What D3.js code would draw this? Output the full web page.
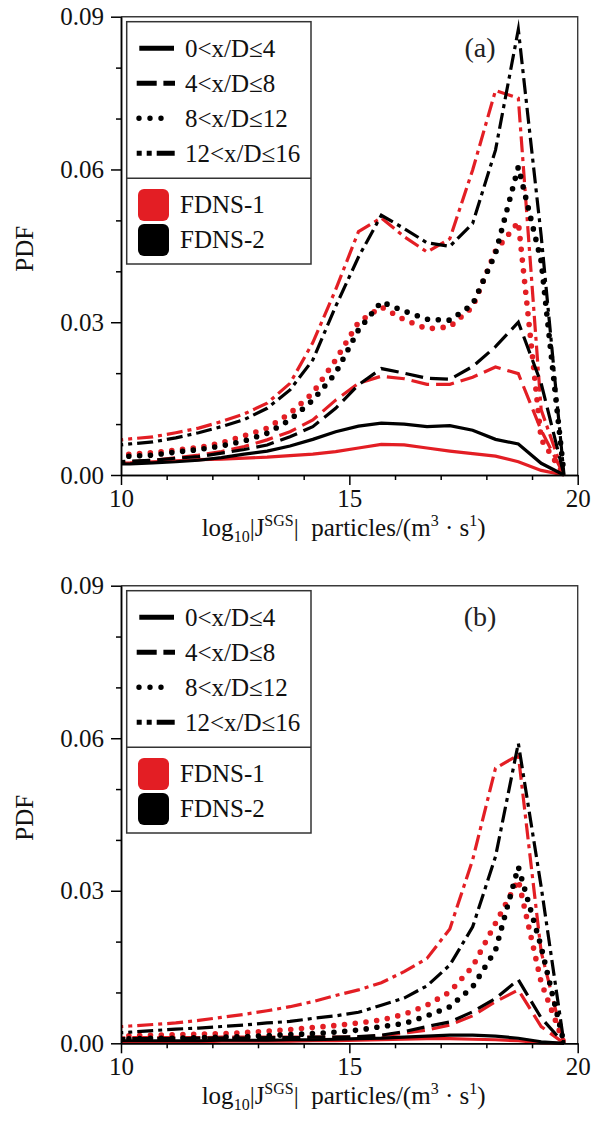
<!DOCTYPE html>
<html>
<head>
<meta charset="utf-8">
<script src="https://cdn.jsdelivr.net/npm/d3@7"></script>
<style>
  html, body { margin: 0; padding: 0; background: #fff; }
  svg { display: block; font-family: "Liberation Serif", "Times New Roman", Times, serif; }
</style>
</head>
<body>
<svg id="chart" width="592" height="1127"></svg>
<script>
// Bin centres of log10|J_SGS| (the first bin lies just left of the axis and is clipped)
const binCenters = [9.7, 10.2, 10.7, 11.2, 11.7, 12.2, 12.7, 13.2, 13.7, 14.2, 14.7,
                    15.2, 15.7, 16.2, 16.7, 17.2, 17.7, 18.2, 18.7, 19.2, 19.7];

const regionLabels = ["0<x/D≤4", "4<x/D≤8", "8<x/D≤12", "12<x/D≤16"];
const caseLabels = ["FDNS-1", "FDNS-2"];
const panelLabels = ["(a)", "(b)"];
const xTickValues = [10, 15, 20];
const yTickValues = [0, 0.03, 0.06, 0.09];

// Panel (a) PDFs
const aRedSolid     = [0.0023, 0.0024, 0.0026, 0.0028, 0.0030, 0.0031, 0.0033, 0.0035, 0.0038, 0.0041, 0.0046, 0.0053, 0.0060, 0.0059, 0.0053, 0.0047, 0.0042, 0.0037, 0.0026, 0.0009, 0];
const aBlackSolid   = [0.0021, 0.0022, 0.0024, 0.0026, 0.0029, 0.0034, 0.0041, 0.0047, 0.0057, 0.0070, 0.0085, 0.0096, 0.0102, 0.0100, 0.0095, 0.0097, 0.0088, 0.0070, 0.0061, 0.0023, 0];
const aRedDashed    = [0.0024, 0.0026, 0.0029, 0.0034, 0.0039, 0.0046, 0.0056, 0.0069, 0.0085, 0.0108, 0.0147, 0.0180, 0.0194, 0.0189, 0.0178, 0.0178, 0.0192, 0.0212, 0.0199, 0.0088, 0];
const aBlackDashed  = [0.0025, 0.0027, 0.0029, 0.0033, 0.0036, 0.0043, 0.0050, 0.0059, 0.0075, 0.0095, 0.0131, 0.0177, 0.0209, 0.0200, 0.0190, 0.0188, 0.0213, 0.0252, 0.0300, 0.0180, 0];
const aRedDotted    = [0.0036, 0.0041, 0.0044, 0.0049, 0.0054, 0.0063, 0.0077, 0.0092, 0.0121, 0.0161, 0.0226, 0.0300, 0.0330, 0.0305, 0.0287, 0.0291, 0.0330, 0.0440, 0.0497, 0.0070, 0];
const aBlackDotted  = [0.0034, 0.0037, 0.0039, 0.0045, 0.0050, 0.0057, 0.0067, 0.0082, 0.0108, 0.0147, 0.0200, 0.0285, 0.0340, 0.0322, 0.0306, 0.0304, 0.0335, 0.0435, 0.0605, 0.0420, 0];
const aRedDashDot   = [0.0066, 0.0071, 0.0075, 0.0083, 0.0092, 0.0105, 0.0120, 0.0141, 0.0180, 0.0260, 0.0364, 0.0478, 0.0505, 0.0468, 0.0438, 0.0464, 0.0599, 0.0755, 0.0740, 0.0128, 0];
const aBlackDashDot = [0.0056, 0.0061, 0.0065, 0.0073, 0.0083, 0.0095, 0.0109, 0.0131, 0.0167, 0.0226, 0.0331, 0.0428, 0.0510, 0.0484, 0.0456, 0.0449, 0.0494, 0.0638, 0.0875, 0.0470, 0];

// Panel (b) PDFs
const bRedSolid     = [0.0003, 0.0003, 0.0003, 0.0003, 0.0003, 0.0004, 0.0004, 0.0004, 0.0004, 0.0005, 0.0005, 0.0006, 0.0007, 0.0008, 0.0009, 0.0009, 0.0008, 0.0007, 0.0005, 0.0001, 0];
const bBlackSolid   = [0.0005, 0.0005, 0.0005, 0.0005, 0.0005, 0.0006, 0.0006, 0.0006, 0.0007, 0.0007, 0.0008, 0.0009, 0.0010, 0.0012, 0.0014, 0.0016, 0.0016, 0.0014, 0.0010, 0.0003, 0];
const bRedDashed    = [0.0010, 0.0011, 0.0011, 0.0011, 0.0011, 0.0012, 0.0012, 0.0012, 0.0012, 0.0012, 0.0012, 0.0012, 0.0015, 0.0020, 0.0026, 0.0036, 0.0054, 0.0082, 0.0105, 0.0033, 0];
const bBlackDashed  = [0.0009, 0.0009, 0.0009, 0.0009, 0.0010, 0.0010, 0.0010, 0.0011, 0.0011, 0.0012, 0.0012, 0.0013, 0.0016, 0.0023, 0.0033, 0.0042, 0.0062, 0.0088, 0.0125, 0.0050, 0];
const bRedDotted    = [0.0014, 0.0015, 0.0016, 0.0017, 0.0018, 0.0019, 0.0021, 0.0024, 0.0027, 0.0031, 0.0035, 0.0040, 0.0046, 0.0057, 0.0075, 0.0101, 0.0151, 0.0236, 0.0321, 0.0120, 0];
const bBlackDotted  = [0.0009, 0.0009, 0.0010, 0.0010, 0.0011, 0.0012, 0.0013, 0.0015, 0.0017, 0.0019, 0.0022, 0.0026, 0.0033, 0.0039, 0.0054, 0.0072, 0.0111, 0.0183, 0.0347, 0.0190, 0];
const bRedDashDot   = [0.0031, 0.0034, 0.0037, 0.0040, 0.0045, 0.0051, 0.0057, 0.0064, 0.0072, 0.0082, 0.0094, 0.0105, 0.0119, 0.0141, 0.0167, 0.0225, 0.0361, 0.0541, 0.0567, 0.0180, 0];
const bBlackDashDot = [0.0019, 0.0022, 0.0025, 0.0028, 0.0030, 0.0033, 0.0036, 0.0040, 0.0043, 0.0049, 0.0054, 0.0061, 0.0075, 0.0089, 0.0113, 0.0154, 0.0229, 0.0367, 0.0590, 0.0308, 0];

// ---------------------------------------------------------------------------
const caseColors = ["#e31e24", "#000000"];
const lineStyles = [
  { dash: null,          width: 3.2, cap: "butt"  },   // solid
  { dash: "18,7",        width: 3.2, cap: "butt"  },   // dashed
  { dash: "0,10.8",      width: 5.6, cap: "round" },   // dotted
  { dash: "16,5,4,5",    width: 3.2, cap: "butt"  }    // dash-dot
];
const legendStyles = [
  { dash: null,        width: 5,   cap: "butt",  x0: 139.3, x1: 174,   offset: 0  },
  { dash: "20,6.7",    width: 5,   cap: "butt",  x0: 136.7, x1: 175,   offset: 0  },
  { dash: "0,11",      width: 5.4, cap: "round", x0: 139,   x1: 172,   offset: 0  },
  { dash: "18,5,5,5",  width: 5,   cap: "butt",  x0: 136.7, x1: 175,   offset: 13 }
];

const panels = [
  { top: 16.7,  bottom: 475,    label: panelLabels[0],
    series: [[aRedSolid, aBlackSolid], [aRedDashed, aBlackDashed], [aRedDotted, aBlackDotted], [aRedDashDot, aBlackDashDot]] },
  { top: 585.7, bottom: 1043.3, label: panelLabels[1],
    series: [[bRedSolid, bBlackSolid], [bRedDashed, bBlackDashed], [bRedDotted, bBlackDotted], [bRedDashDot, bBlackDashDot]] }
];

const plotLeft = 121, plotRight = 577.7;
const svg = d3.select("#chart");

const x = d3.scaleLinear().domain([10, 20]).range([plotLeft, plotRight]);

panels.forEach((p, pi) => {
  const T = p.top;
  const y = d3.scaleLinear().domain([0, 0.09]).range([p.bottom, p.top]);
  const g = svg.append("g");

  // frame (top and right)
  g.append("path")
    .attr("d", `M${plotLeft},${T}H${plotRight}V${p.bottom}`)
    .attr("fill", "none").attr("stroke", "#3a3a3a").attr("stroke-width", 1.4);

  // clip region for curves
  const clipId = "clip" + pi;
  svg.append("clipPath").attr("id", clipId)
    .append("rect").attr("x", plotLeft).attr("y", T - 2)
    .attr("width", plotRight - plotLeft).attr("height", p.bottom - T + 4);

  const curves = g.append("g").attr("clip-path", `url(#${clipId})`);
  const line = d3.line()
    .x((d, i) => x(binCenters[i]))
    .y(d => y(d));

  // red (FDNS-1) first, black (FDNS-2) drawn over it
  [0, 1].forEach(ci => {
    p.series.forEach((pair, si) => {
      const st = lineStyles[si];
      curves.append("path")
        .datum(pair[ci])
        .attr("d", line)
        .attr("fill", "none")
        .attr("stroke", caseColors[ci])
        .attr("stroke-width", st.width)
        .attr("stroke-linecap", st.cap)
        .attr("stroke-linejoin", "miter")
        .attr("stroke-miterlimit", 10)
        .attr("stroke-dasharray", st.dash);
    });
  });

  // axes
  const yAxis = d3.axisLeft(y).tickValues(yTickValues).tickFormat(d3.format(".2f"))
    .tickSize(10).tickSizeOuter(0).tickPadding(7);
  const yMinor = d3.axisLeft(y).tickValues([0.01, 0.02, 0.04, 0.05, 0.07, 0.08])
    .tickFormat("").tickSize(5).tickSizeOuter(0);
  const xAxis = d3.axisBottom(x).tickValues(xTickValues).tickFormat(d3.format("d"))
    .tickSize(10).tickSizeOuter(0).tickPadding(4);
  const xMinor = d3.axisBottom(x).tickValues([11, 12, 13, 14, 16, 17, 18, 19])
    .tickFormat("").tickSize(5).tickSizeOuter(0);

  const styleAxis = sel => {
    sel.selectAll("path, line").attr("stroke", "#000").attr("stroke-width", 1.5);
    sel.selectAll("text").attr("font-family", '"Liberation Serif", "Times New Roman", serif')
      .attr("font-size", 25).attr("fill", "#111");
  };
  g.append("g").attr("transform", `translate(${plotLeft},0)`).call(yMinor).call(styleAxis);
  g.append("g").attr("transform", `translate(${plotLeft},0)`).call(yAxis).call(styleAxis);
  g.append("g").attr("transform", `translate(0,${p.bottom})`).call(xMinor).call(styleAxis);
  g.append("g").attr("transform", `translate(0,${p.bottom})`).call(xAxis).call(styleAxis);

  // y label
  g.append("text")
    .attr("transform", `translate(33,${T + 232}) rotate(-90)`)
    .attr("text-anchor", "middle")
    .attr("font-size", 25).attr("fill", "#111")
    .text("PDF");

  // x label
  const xl = g.append("text")
    .attr("x", 343.6).attr("y", p.bottom + 61)
    .attr("text-anchor", "middle")
    .attr("font-size", 25).attr("fill", "#111");
  xl.append("tspan").text("log");
  xl.append("tspan").attr("font-size", 16).attr("dy", 6).text("10");
  xl.append("tspan").attr("dy", -6).text("|J");
  xl.append("tspan").attr("font-size", 16).attr("dy", -10).text("SGS");
  xl.append("tspan").attr("dy", 10).text("|\u00a0\u00a0particles/(m");
  xl.append("tspan").attr("font-size", 16).attr("dy", -10).text("3");
  xl.append("tspan").attr("dy", 10).text("\u00a0·\u00a0s");
  xl.append("tspan").attr("font-size", 16).attr("dy", -10).text("1");
  xl.append("tspan").attr("dy", 10).text(")");

  // panel tag
  g.append("text")
    .attr("x", 480).attr("y", T + 40.5)
    .attr("text-anchor", "middle")
    .attr("font-size", 28).attr("fill", "#222")
    .text(p.label);

  // legend
  const lg = g.append("g");
  lg.append("rect")
    .attr("x", 126.7).attr("y", T + 5)
    .attr("width", 184.3).attr("height", 242.3)
    .attr("fill", "#fff").attr("stroke", "#333").attr("stroke-width", 1.5);
  lg.append("line")
    .attr("x1", 126.7).attr("x2", 311)
    .attr("y1", T + 161.6).attr("y2", T + 161.6)
    .attr("stroke", "#333").attr("stroke-width", 1.5);

  regionLabels.forEach((lab, i) => {
    const st = legendStyles[i];
    const cy = T + 31.6 + i * 35;
    lg.append("line")
      .attr("x1", st.x0).attr("x2", st.x1).attr("y1", cy).attr("y2", cy)
      .attr("stroke", "#000").attr("stroke-width", st.width)
      .attr("stroke-linecap", st.cap)
      .attr("stroke-dasharray", st.dash)
      .attr("stroke-dashoffset", st.offset);
    lg.append("text")
      .attr("x", 185).attr("y", cy + 9)
      .attr("font-size", 25).attr("fill", "#111")
      .text(lab);
  });

  caseLabels.forEach((lab, i) => {
    const top = T + 172.3 + i * 35;
    lg.append("rect")
      .attr("x", 138).attr("y", top)
      .attr("width", 31).attr("height", 32)
      .attr("rx", 6).attr("ry", 6)
      .attr("fill", caseColors[i]);
    lg.append("text")
      .attr("x", 180).attr("y", top + 24.3)
      .attr("font-size", 25).attr("fill", "#111")
      .text(lab);
  });
});
</script>
</body>
</html>
